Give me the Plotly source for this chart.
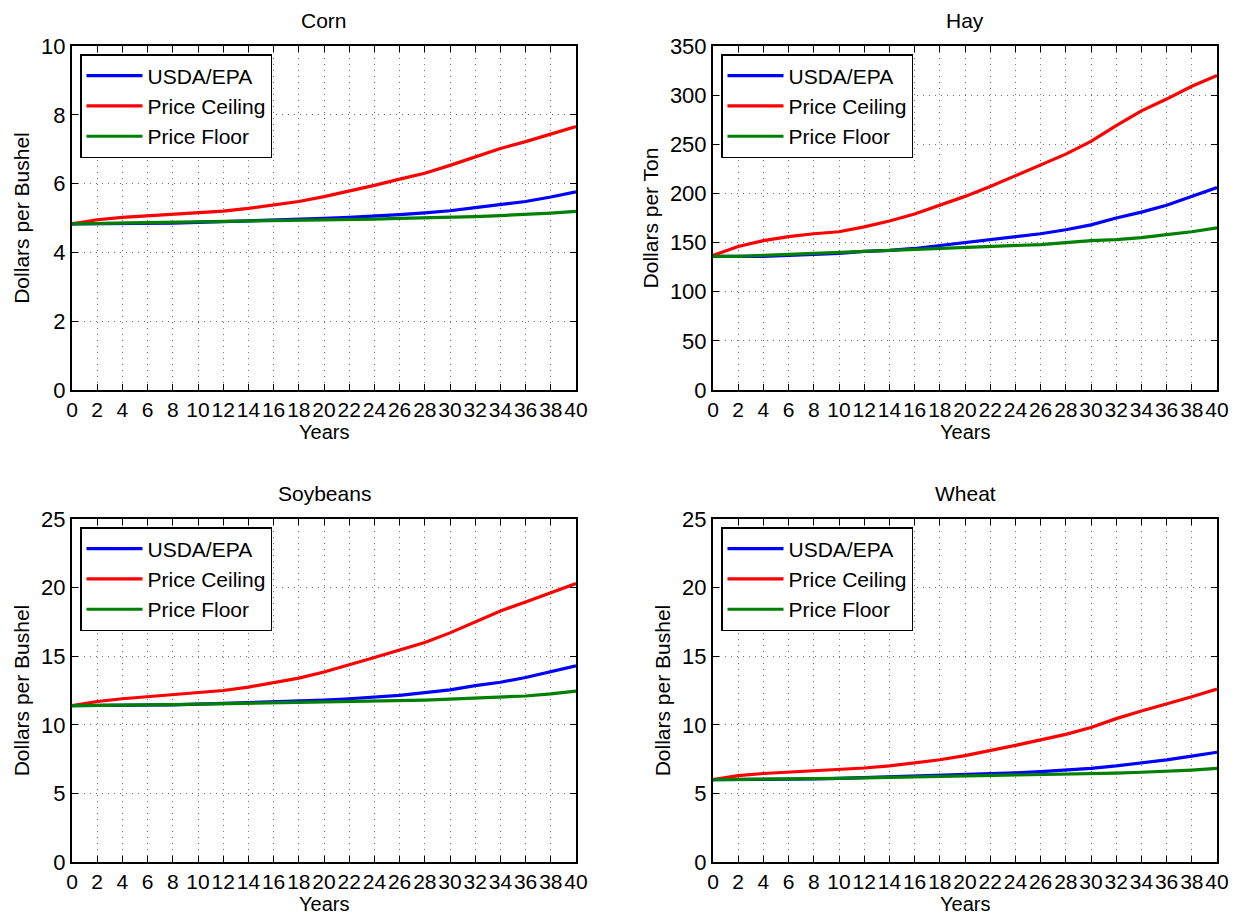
import plotly.graph_objects as go

years = list(range(0, 41, 2))
x_ticks = list(range(0, 41, 2))

corn_usda = [4.83, 4.83, 4.83, 4.84, 4.85, 4.87, 4.89, 4.91, 4.93, 4.96, 4.99, 5.02, 5.05, 5.10, 5.15, 5.21, 5.30, 5.39, 5.48, 5.61, 5.76]
corn_ceiling = [4.83, 4.95, 5.02, 5.06, 5.10, 5.14, 5.20, 5.28, 5.37, 5.48, 5.62, 5.78, 5.95, 6.13, 6.30, 6.53, 6.78, 7.02, 7.22, 7.44, 7.66]
corn_floor = [4.83, 4.84, 4.85, 4.86, 4.87, 4.88, 4.89, 4.90, 4.92, 4.93, 4.94, 4.96, 4.97, 4.99, 5.00, 5.02, 5.04, 5.07, 5.10, 5.14, 5.19]

hay_usda = [136, 136, 136, 137, 138, 139, 141, 142, 144, 147, 150, 153, 156, 159, 163, 168, 175, 181, 188, 197, 206]
hay_ceiling = [137, 146, 152, 156, 159, 161, 166, 172, 179, 188, 197, 207, 218, 229, 240, 253, 269, 284, 296, 309, 320]
hay_floor = [136, 136, 137, 138, 139, 140, 141, 142, 143, 144, 145, 146, 147, 148, 150, 152, 153, 155, 158, 161, 165]

soy_usda = [11.4, 11.4, 11.4, 11.42, 11.45, 11.5, 11.55, 11.6, 11.65, 11.72, 11.8, 11.9, 12.0, 12.15, 12.35, 12.55, 12.85, 13.1, 13.45, 13.85, 14.3]
soy_ceiling = [11.4, 11.7, 11.9, 12.05, 12.15, 12.3, 12.5, 12.75, 13.05, 13.4, 13.85, 14.35, 14.9, 15.45, 16.0, 16.7, 17.5, 18.3, 18.95, 19.65, 20.3]
soy_floor = [11.4, 11.4, 11.42, 11.45, 11.47, 11.5, 11.52, 11.55, 11.58, 11.6, 11.63, 11.67, 11.7, 11.75, 11.8, 11.87, 11.93, 12.0, 12.1, 12.25, 12.45]

wheat_usda = [6.0, 6.0, 6.0, 6.02, 6.05, 6.1, 6.15, 6.2, 6.25, 6.3, 6.35, 6.42, 6.5, 6.58, 6.7, 6.82, 7.0, 7.2, 7.45, 7.72, 8.0]
wheat_ceiling = [6.0, 6.3, 6.45, 6.55, 6.6, 6.7, 6.85, 7.0, 7.2, 7.45, 7.75, 8.1, 8.5, 8.9, 9.3, 9.8, 10.45, 11.0, 11.5, 12.05, 12.6]
wheat_floor = [6.0, 6.01, 6.03, 6.06, 6.08, 6.1, 6.13, 6.16, 6.19, 6.22, 6.25, 6.28, 6.31, 6.35, 6.39, 6.43, 6.48, 6.54, 6.6, 6.7, 6.82]

series_names = ["USDA/EPA", "Price Ceiling", "Price Floor"]
series_colors = ["#0000ff", "#ff0000", "#008000"]

panels = [
    ("Corn", "Dollars per Bushel", [corn_usda, corn_ceiling, corn_floor], [0, 10], list(range(0, 11, 2))),
    ("Hay", "Dollars per Ton", [hay_usda, hay_ceiling, hay_floor], [0, 350], list(range(0, 351, 50))),
    ("Soybeans", "Dollars per Bushel", [soy_usda, soy_ceiling, soy_floor], [0, 25], list(range(0, 26, 5))),
    ("Wheat", "Dollars per Bushel", [wheat_usda, wheat_ceiling, wheat_floor], [0, 25], list(range(0, 26, 5))),
]

# page has an 8px body margin: figure starts at (8, 8) in the window
OFF = 8
W, H = 1238 - OFF, 917 - OFF
# pixel boxes in window coords (left, right, top, bottom)
boxes = [(72, 576, 46, 390), (713, 1217, 46, 390), (72, 576, 519, 862), (713, 1217, 519, 862)]

FONT = "Liberation Sans, Arial, Helvetica, sans-serif"
XTICK_SIZE = 21
YTICK_SIZE = 22
LABEL_SIZE = 21
fig = go.Figure()
layout = dict(
    width=W, height=H, margin=dict(l=0, r=0, t=0, b=0),
    paper_bgcolor="white", plot_bgcolor="white",
    font=dict(family=FONT, size=LABEL_SIZE, color="black"),
    annotations=[],
)

def fx(px):
    return (px - OFF) / W

def fy(py):
    return 1 - (py - OFF) / H

for i, (title, ylab, data, yr, yt) in enumerate(panels):
    n = "" if i == 0 else str(i + 1)
    l, r, t, b = boxes[i]
    legend_name = "legend" if i == 0 else f"legend{i+1}"
    for j in range(3):
        fig.add_trace(go.Scatter(
            x=years, y=data[j], mode="lines", name=series_names[j],
            line=dict(color=series_colors[j], width=3.2),
            xaxis="x" + n, yaxis="y" + n, legend=legend_name,
        ))
    axis_common = dict(
        showline=True, linecolor="black", linewidth=2, mirror="ticks",
        ticks="inside", ticklen=6, tickcolor="black", tickwidth=1,
        showgrid=True, gridcolor="#707070", griddash="1px,5px", gridwidth=1,
        zeroline=False, automargin=False,
    )
    layout["xaxis" + n] = dict(
        axis_common, domain=[fx(l), fx(r)], range=[0, 40], tickmode="array",
        tickvals=x_ticks, ticktext=[str(v) for v in x_ticks], tickangle=0,
        tickfont=dict(size=XTICK_SIZE, family=FONT, color="black"),
        anchor="y" + n,
    )
    layout["yaxis" + n] = dict(
        axis_common, domain=[fy(b), fy(t)], range=yr, tickmode="array",
        tickvals=yt, ticktext=[str(v) for v in yt],
        tickfont=dict(size=YTICK_SIZE, family=FONT, color="black"),
        anchor="x" + n, title=dict(text=ylab, font=dict(size=LABEL_SIZE), standoff=6),
    )
    layout[legend_name] = dict(
        x=fx(l + 8), y=fy(t + 8), xanchor="left", yanchor="top",
        bgcolor="white", bordercolor="black", borderwidth=1.5,
        font=dict(size=21, family=FONT), itemwidth=56,
    )
    # subplot title
    layout["annotations"].append(dict(
        text=title, xref="paper", yref="paper", x=fx((l + r) / 2),
        y=fy(t - 26), xanchor="center", yanchor="middle",
        showarrow=False, font=dict(size=LABEL_SIZE, family=FONT),
    ))
    # x-axis label "Years"
    yb = min(b + 54, 917)
    layout["annotations"].append(dict(
        text="Years", xref="paper", yref="paper", x=fx((l + r) / 2),
        y=fy(yb), xanchor="center", yanchor="bottom",
        showarrow=False, font=dict(size=20, family=FONT),
        borderpad=0,
    ))

fig.update_layout(**layout)
fig.write_html("out.html")
